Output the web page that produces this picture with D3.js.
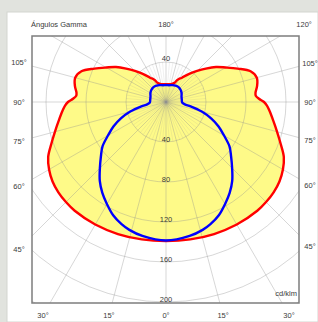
<!DOCTYPE html>
<html>
<head>
<meta charset="utf-8">
<script src="https://cdn.jsdelivr.net/npm/d3@7"></script>
<style>
  html, body { margin: 0; padding: 0; background: #e1e3de; }
  svg { display: block; font-family: "Liberation Sans", Arial, sans-serif; }
</style>
</head>
<body>
<div id="chart"></div>
<script>
// gamma angles (deg, 0 = down) and intensities in cd/klm
const gammaRed = [0, 10, 20, 30, 40, 45, 50, 55, 60, 65, 70, 75, 80, 85, 88, 90, 92, 94, 96, 100, 105, 110, 115, 120, 125, 130, 135, 140, 145, 148, 150, 153, 157, 165, 180];
const redValues = [139, 139.5, 140.5, 141.5, 142, 141.5, 140.5, 138.5, 135, 130, 122, 115, 109, 104, 101, 98, 93, 90, 90, 92.5, 94, 90, 79, 69, 61, 52, 44, 37, 31, 28, 27, 24.5, 20.5, 18.5, 17.7];

const gammaBlue = [0, 10, 16, 20, 25, 30, 35, 40, 45, 50, 55, 60, 65, 70, 75, 80, 83, 87, 90, 100, 110, 120, 130, 140, 150, 160, 170, 180];
const blueValues = [138.5, 136, 133, 130, 125, 118, 111, 103, 93.5, 85, 77.5, 67, 58, 48, 37, 25, 19, 16.5, 16, 16, 16.5, 18, 19, 19.5, 19, 18, 17, 17];

const ringValues = [40, 80, 120, 160, 200, 240, 280, 320, 360];
const ringLabels = [40, 80, 120, 160, 200];
const angleLabels = [0, 15, 30, 45, 60, 75, 90, 105];

const W = 318, H = 322;
const cx = 166, cy = 102;
const box = { x0: 32, y0: 36, x1: 299, y1: 303 };
const lab = { x0: 19, y0: 24, x1: 310, y1: 315 };

const r = d3.scaleLinear().domain([0, 200]).range([0, 200]);
const rad = d => d * Math.PI / 180;

const svg = d3.select("#chart").append("svg").attr("width", W).attr("height", H);

svg.append("rect").attr("x", 7).attr("y", 12).attr("width", W - 7).attr("height", H - 12)
  .attr("fill", "#fff").attr("stroke", "#d4d6d0");

svg.append("clipPath").attr("id", "clip").append("rect")
  .attr("x", box.x0).attr("y", box.y0).attr("width", box.x1 - box.x0).attr("height", box.y1 - box.y0);

const plot = svg.append("g").attr("clip-path", "url(#clip)");
const g = plot.append("g").attr("transform", `translate(${cx},${cy})`);

// symmetric closed loop: right half, then mirrored left half
function loop(gammas, values) {
  const pts = gammas.map((a, i) => [Math.PI - rad(a), r(values[i])]);
  const left = [];
  for (let j = gammas.length - 2; j > 0; j--) left.push([Math.PI + rad(gammas[j]), r(values[j])]);
  return pts.concat(left);
}

const radial = d3.lineRadial().curve(d3.curveCatmullRomClosed.alpha(0.5));

g.append("path").attr("d", radial(loop(gammaRed, redValues))).attr("fill", "#fefa88");

// grid
const grid = g.append("g").attr("stroke", "#8f8f8f").attr("fill", "none").attr("stroke-width", 0.9);
ringValues.forEach(v => grid.append("circle").attr("r", r(v)).attr("stroke-opacity", 0.4));
d3.range(0, 360, 15).forEach(a => {
  grid.append("line").attr("x1", 0).attr("y1", 0).attr("stroke-opacity", 0.4)
    .attr("x2", 500 * Math.sin(rad(a))).attr("y2", 500 * Math.cos(rad(a)));
});
d3.range(0, 360, 5).filter(a => a % 15 !== 0).forEach(a => {
  grid.append("line").attr("x1", 0).attr("y1", 0).attr("stroke-opacity", 0.2).attr("stroke-width", 0.7)
    .attr("x2", r(40) * Math.sin(rad(a))).attr("y2", r(40) * Math.cos(rad(a)));
});

g.append("path").attr("d", radial(loop(gammaRed, redValues)))
  .attr("fill", "none").attr("stroke", "#f00").attr("stroke-width", 2.4);
g.append("path").attr("d", radial(loop(gammaBlue, blueValues)))
  .attr("fill", "none").attr("stroke", "#00f").attr("stroke-width", 2.4);

svg.append("rect").attr("x", box.x0).attr("y", box.y0)
  .attr("width", box.x1 - box.x0).attr("height", box.y1 - box.y0)
  .attr("fill", "none").attr("stroke", "#7d7d7d").attr("stroke-width", 1.5);

const txt = svg.append("g").attr("font-size", 7.5).attr("fill", "#3a3a3a");

// ring labels: upper 40 and lower scale
txt.append("text").attr("x", cx).attr("y", cy - r(40) - 1.5).attr("text-anchor", "middle").text(40);
ringLabels.forEach(v => {
  txt.append("text").attr("x", cx).attr("y", cy + r(v) - 0.5).attr("text-anchor", "middle").text(v);
});

// gamma labels where the ray meets the outer label rectangle
function edgePoint(a, side) {
  const dx = side * Math.sin(rad(a)), dy = Math.cos(rad(a));
  const ts = [];
  if (dx > 1e-6) ts.push((lab.x1 - cx) / dx);
  if (dx < -1e-6) ts.push((lab.x0 - cx) / dx);
  if (dy > 1e-6) ts.push((lab.y1 - cy) / dy);
  if (dy < -1e-6) ts.push((lab.y0 - cy) / dy);
  const t = Math.min(...ts);
  return [cx + t * dx, cy + t * dy];
}
angleLabels.forEach(a => {
  [1, -1].forEach(side => {
    if (a === 0 && side < 0) return;
    const p = edgePoint(a, side);
    txt.append("text").attr("x", p[0]).attr("y", p[1]).attr("dy", "0.35em")
      .attr("text-anchor", "middle").text(a + "°");
  });
});
const p180 = edgePoint(180, 1);
txt.append("text").attr("x", p180[0]).attr("y", p180[1]).attr("dy", "0.35em").attr("text-anchor", "middle").text("180°");
const p120 = edgePoint(120, 1);
txt.append("text").attr("x", p120[0] + 3).attr("y", p120[1]).attr("dy", "0.35em").attr("text-anchor", "middle").text("120°");
txt.append("text").attr("x", 31).attr("y", 24).attr("dy", "0.35em").text("Ángulos Gamma");
txt.append("text").attr("x", 297).attr("y", 296).attr("text-anchor", "end").text("cd/klm");
</script>
</body>
</html>
